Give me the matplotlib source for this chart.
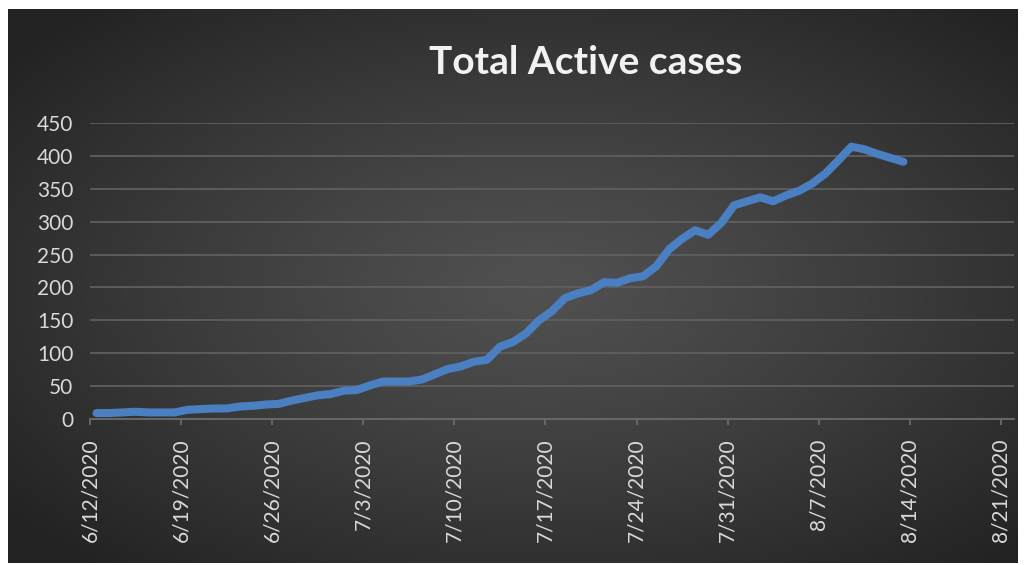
import numpy as np
import pandas as pd
import matplotlib
matplotlib.use("Agg")
import matplotlib.pyplot as plt
import matplotlib.dates as mdates
from matplotlib.ticker import FuncFormatter

# ---- data ----
start_date = "2020-06-12"
active_cases = [9, 9, 10, 11, 10, 10, 10, 14, 15, 16,
                16, 19, 20, 22, 23, 28, 32, 36, 38, 43,
                44, 51, 57, 57, 57, 60, 68, 76, 80, 87,
                90, 110, 117, 130, 150, 164, 184, 191, 196, 208,
                207, 214, 217, 232, 258, 274, 287, 280, 298, 325,
                331, 337, 331, 340, 347, 358, 373, 393, 414, 410,
                403, 397, 391]
tick_dates = ["2020-06-12", "2020-06-19", "2020-06-26", "2020-07-03",
              "2020-07-10", "2020-07-17", "2020-07-24", "2020-07-31",
              "2020-08-07", "2020-08-14", "2020-08-21"]
y_ticks = [0, 50, 100, 150, 200, 250, 300, 350, 400, 450]
title = "Total Active cases"

dates = pd.date_range(start_date, periods=len(active_cases), freq="D")

W, H = 1025, 565
fig = plt.figure(figsize=(W / 100, H / 100), dpi=100, facecolor="white")
plt.rcParams['font.family'] = ['Lato', 'DejaVu Sans']

# background panel with radial gradient
x0, x1, y0, y1 = 8, 1018, 9, 563
bg = fig.add_axes([x0 / W, 1 - y1 / H, (x1 - x0) / W, (y1 - y0) / H])
bg.set_axis_off()
nx, ny = 400, 220
gx = np.linspace(-1, 1, nx)
gy = np.linspace(-1, 1, ny)
GX, GY = np.meshgrid(gx, gy)
cx, cy = 0.05, 0.0
r = np.sqrt((GX - cx) ** 2 + (GY - cy) ** 2)
r = np.clip(r / 1.35, 0, 1)
inner, outer = 0.315, 0.135
val = inner + (outer - inner) * r ** 1.2
img = np.dstack([val, val, val])
bg.imshow(img, aspect="auto", extent=[0, 1, 0, 1], interpolation="bilinear")
bg.set_xlim(0, 1)
bg.set_ylim(0, 1)

# main axes
ax_left, ax_right = 90, 1014
ax_top, ax_bottom = 123, 419
ax = fig.add_axes([ax_left / W, 1 - ax_bottom / H,
                   (ax_right - ax_left) / W, (ax_bottom - ax_top) / H])
ax.set_facecolor("none")

xvals = dates + pd.Timedelta(hours=12)
ax.plot(xvals, active_cases, color="#4a7fc1", lw=5.8,
        solid_capstyle="round", solid_joinstyle="round", zorder=3)

ax.set_ylim(0, 450)
ax.set_yticks(y_ticks)
ax.set_xlim(pd.Timestamp("2020-06-12"), pd.Timestamp("2020-08-22"))
ax.set_xticks(pd.to_datetime(tick_dates))
ax.xaxis.set_major_formatter(FuncFormatter(
    lambda v, p: (lambda d: f"{d.month}/{d.day}/{d.year}")(mdates.num2date(v))))

ax.grid(axis="y", color="#5f5f5f", lw=1.3, zorder=1)
ax.grid(axis="x", visible=False)
for s in ["top", "right", "left"]:
    ax.spines[s].set_visible(False)
ax.spines["bottom"].set_color("#6a6a6a")
ax.spines["bottom"].set_linewidth(1.3)

ax.tick_params(axis="y", length=0, pad=12, labelsize=15, labelcolor="#d9d9d9")
ax.tick_params(axis="x", length=4, width=1.3, color="#6a6a6a", pad=10,
               labelsize=15, labelcolor="#d9d9d9", labelrotation=90)

fig.text(586 / W, 1 - 62 / H, title, ha="center", va="center",
         fontsize=28, fontweight="bold", color="#f2f2f2")

fig.savefig("out.png", dpi=100, facecolor="white")
